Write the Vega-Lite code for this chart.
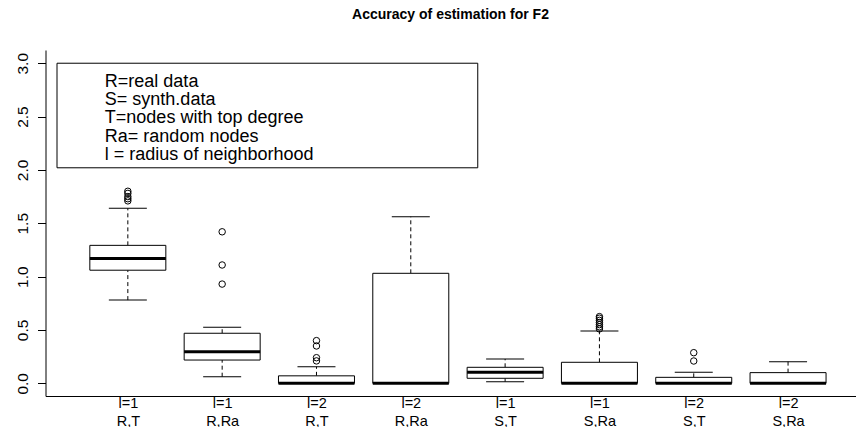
{
  "$schema": "https://vega.github.io/schema/vega-lite/v6.json",
  "width": 810,
  "height": 346,
  "autosize": {"type": "none"},
  "padding": {"left": 45.5, "top": 50, "right": 0, "bottom": 31},
  "background": "white",
  "title": {"text": "Accuracy of estimation for F2", "fontSize": 14, "fontWeight": "bold", "font": "Liberation Sans", "color": "black", "anchor": "middle", "offset": 28},
  "config": {"view": {"stroke": null}, "font": "Liberation Sans"},
  "datasets": {
    "stats": [
      {"grp": 1, "lo": 0.78, "q1": 1.06, "med": 1.17, "q3": 1.293, "hi": 1.64},
      {"grp": 2, "lo": 0.062, "q1": 0.218, "med": 0.296, "q3": 0.469, "hi": 0.525},
      {"grp": 3, "lo": 0, "q1": 0, "med": 0, "q3": 0.07, "hi": 0.156},
      {"grp": 4, "lo": 0, "q1": 0, "med": 0, "q3": 1.031, "hi": 1.562},
      {"grp": 5, "lo": 0.015, "q1": 0.047, "med": 0.103, "q3": 0.15, "hi": 0.228},
      {"grp": 6, "lo": 0, "q1": 0, "med": 0, "q3": 0.197, "hi": 0.49},
      {"grp": 7, "lo": 0, "q1": 0, "med": 0, "q3": 0.056, "hi": 0.103},
      {"grp": 8, "lo": 0, "q1": 0, "med": 0, "q3": 0.1, "hi": 0.203}
    ],
    "outliers": [
      {"grp": 1, "v": 1.71}, {"grp": 1, "v": 1.73}, {"grp": 1, "v": 1.75}, {"grp": 1, "v": 1.78}, {"grp": 1, "v": 1.8},
      {"grp": 2, "v": 1.42}, {"grp": 2, "v": 1.109}, {"grp": 2, "v": 0.93},
      {"grp": 3, "v": 0.4}, {"grp": 3, "v": 0.35}, {"grp": 3, "v": 0.24}, {"grp": 3, "v": 0.21},
      {"grp": 6, "v": 0.51}, {"grp": 6, "v": 0.53}, {"grp": 6, "v": 0.55}, {"grp": 6, "v": 0.57}, {"grp": 6, "v": 0.59}, {"grp": 6, "v": 0.61}, {"grp": 6, "v": 0.625},
      {"grp": 7, "v": 0.287}, {"grp": 7, "v": 0.209}
    ]
  },
  "layer": [
    {
      "data": {"name": "stats"},
      "mark": {"type": "rule", "color": "black", "strokeWidth": 1, "strokeDash": [4, 3]},
      "encoding": {
        "x": {"field": "grp", "type": "quantitative", "title": null,
              "scale": {"domain": [0.18, 8.662], "nice": false, "zero": false},
              "axis": {"values": [1, 2, 3, 4, 5, 6, 7, 8], "grid": false, "ticks": false, "domainColor": "black", "domainWidth": 1,
                       "labelExpr": "[['l=1','R,T'],['l=1','R,Ra'],['l=2','R,T'],['l=2','R,Ra'],['l=1','S,T'],['l=1','S,Ra'],['l=2','S,T'],['l=2','S,Ra']][datum.value-1]",
                       "labelFontSize": 14.5, "labelColor": "black", "labelBaseline": "top", "labelPadding": 0, "labelLineHeight": 18, "labelFont": "Liberation Sans"}},
        "y": {"field": "lo", "type": "quantitative", "title": null,
              "scale": {"domain": [-0.119, 3.124], "nice": false, "zero": false},
              "axis": {"values": [0, 0.5, 1, 1.5, 2, 2.5, 3], "format": ".1f", "grid": false, "tickSize": 8, "tickColor": "black", "domainColor": "black",
                       "labelAngle": -90, "labelAlign": "center", "labelBaseline": "bottom", "labelPadding": 7, "labelFontSize": 15.5, "labelColor": "black", "labelFont": "Liberation Sans"}},
        "y2": {"field": "q1"}
      }
    },
    {
      "data": {"name": "stats"},
      "mark": {"type": "rule", "color": "black", "strokeWidth": 1, "strokeDash": [4, 3]},
      "encoding": {
        "x": {"field": "grp", "type": "quantitative", "title": null},
        "y": {"field": "q3", "type": "quantitative", "title": null},
        "y2": {"field": "hi"}
      }
    },
    {
      "data": {"name": "stats"},
      "mark": {"type": "bar", "width": 76, "fill": "white", "stroke": "black", "strokeWidth": 1},
      "encoding": {
        "x": {"field": "grp", "type": "quantitative", "title": null},
        "y": {"field": "q1", "type": "quantitative", "title": null},
        "y2": {"field": "q3"}
      }
    },
    {
      "data": {"name": "stats"},
      "mark": {"type": "tick", "orient": "horizontal", "size": 76, "thickness": 3, "color": "black", "opacity": 1},
      "encoding": {
        "x": {"field": "grp", "type": "quantitative", "title": null},
        "y": {"field": "med", "type": "quantitative", "title": null}
      }
    },
    {
      "data": {"name": "stats"},
      "mark": {"type": "tick", "orient": "horizontal", "size": 38, "thickness": 1, "color": "black", "opacity": 1},
      "encoding": {
        "x": {"field": "grp", "type": "quantitative", "title": null},
        "y": {"field": "lo", "type": "quantitative", "title": null}
      }
    },
    {
      "data": {"name": "stats"},
      "mark": {"type": "tick", "orient": "horizontal", "size": 38, "thickness": 1, "color": "black", "opacity": 1},
      "encoding": {
        "x": {"field": "grp", "type": "quantitative", "title": null},
        "y": {"field": "hi", "type": "quantitative", "title": null}
      }
    },
    {
      "data": {"name": "outliers"},
      "mark": {"type": "point", "shape": "circle", "size": 42, "filled": false, "stroke": "black", "strokeWidth": 1, "opacity": 1},
      "encoding": {
        "x": {"field": "grp", "type": "quantitative", "title": null},
        "y": {"field": "v", "type": "quantitative", "title": null}
      }
    },
    {
      "data": {"values": [{}]},
      "mark": {"type": "rect", "fill": "white", "stroke": "black", "strokeWidth": 1},
      "encoding": {
        "x": {"datum": 0.249, "type": "quantitative"},
        "x2": {"datum": 4.71},
        "y": {"datum": 2.02, "type": "quantitative"},
        "y2": {"datum": 3.0}
      }
    },
    {
      "data": {"values": [{}]},
      "mark": {"type": "text", "align": "left", "baseline": "alphabetic", "fontSize": 18, "lineHeight": 18.3, "color": "black", "font": "Liberation Sans"},
      "encoding": {
        "x": {"datum": 0.756, "type": "quantitative"},
        "y": {"datum": 2.78, "type": "quantitative"},
        "text": {"value": ["R=real data", "S= synth.data", "T=nodes with top degree", "Ra= random nodes", "l = radius of neighborhood"]}
      }
    }
  ]
}
